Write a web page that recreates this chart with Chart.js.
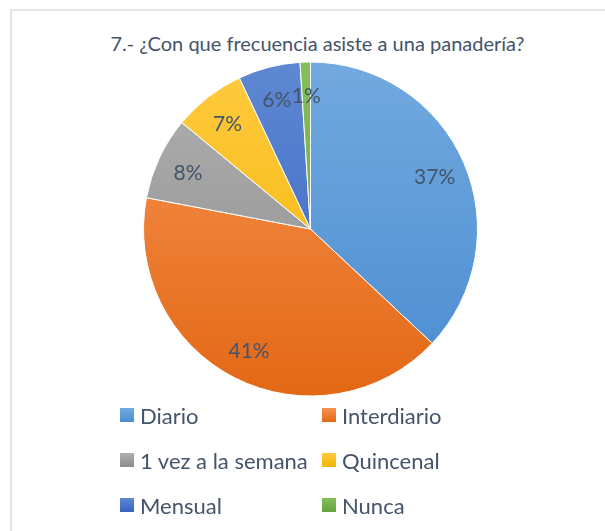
<!DOCTYPE html>
<html>
<head>
<meta charset="utf-8">
<script src="https://cdn.jsdelivr.net/npm/chart.js@4/dist/chart.umd.min.js"></script>
<style>
  html, body { margin: 0; padding: 0; background: #fff; }
  body { width: 605px; height: 531px; position: relative; overflow: hidden; font-family: Lato, "Open Sans", sans-serif; }
  #frame { position: absolute; left: 10px; top: 9px; right: -5px; bottom: -5px; border-left: 2px solid #e1e4e9; border-top: 2px solid #e1e4e9; }
  #wrap { position: absolute; left: 0; top: 0; width: 605px; height: 531px; }
  #title { position: absolute; left: 17.5px; width: 600px; top: 31px; height: 24px; line-height: 24px; text-align: center; font-size: 20px; color: #44546a; white-space: nowrap; }
  #legend { position: absolute; left: 0; top: 0; width: 605px; height: 531px; pointer-events: none; }
  .item { position: absolute; display: flex; align-items: center; font-size: 22px; color: #44546a; white-space: nowrap; }
  .box { width: 14px; height: 14px; margin-right: 6px; }
</style>
</head>
<body>
<div id="frame"></div>
<div id="title"></div>
<div id="wrap"><canvas id="chart" width="605" height="531"></canvas></div>
<div id="legend"></div>
<script>
var titleText = '7.- ¿Con que frecuencia asiste a una panadería?';
var categories = ['Diario', 'Interdiario', '1 vez a la semana', 'Quincenal', 'Mensual', 'Nunca'];
var percents = [37, 41, 8, 7, 6, 1];
var lightColors = ['#72aadf', '#f79352', '#b0b0b0', '#ffca40', '#5f88d2', '#84bf5c'];
var darkColors = ['#4a8bd0', '#e36815', '#8c8c8c', '#f2b500', '#3563c2', '#62a33b'];

var textColor = '#44546a';

document.getElementById('title').textContent = titleText;

function sliceFill(ctx) {
    var chart = ctx.chart;
    var area = chart.chartArea;
    if (!area) return lightColors[ctx.dataIndex];
    var g = chart.ctx.createLinearGradient(0, area.top, 0, area.bottom);
    g.addColorStop(0, lightColors[ctx.dataIndex]);
    g.addColorStop(1, darkColors[ctx.dataIndex]);
    return g;
}

// percent labels inside the slices
var pctLabels = {
    id: 'pctLabels',
    afterDatasetsDraw: function (chart) {
        var c = chart.ctx;
        var meta = chart.getDatasetMeta(0);
        c.save();
        c.font = '21px Lato, "Open Sans", sans-serif';
        c.fillStyle = textColor;
        c.textAlign = 'center';
        c.textBaseline = 'middle';
        meta.data.forEach(function (arc, i) {
            var p = arc.getProps(['x', 'y', 'startAngle', 'endAngle', 'outerRadius'], true);
            var mid = (p.startAngle + p.endAngle) / 2;
            var r = p.outerRadius * 0.81;
            c.fillText(percents[i] + '%', p.x + Math.cos(mid) * r, p.y + Math.sin(mid) * r + 2);
        });
        c.restore();
    }
};

var chart = new Chart(document.getElementById('chart'), {
    type: 'pie',
    data: {
        labels: categories,
        datasets: [{
            data: percents,
            backgroundColor: sliceFill,
            borderColor: '#ffffff',
            borderWidth: 1
        }]
    },
    options: {
        responsive: false,
        animation: false,
        layout: { padding: { left: 143, right: 127, top: 61.5, bottom: 134.5 } },
        plugins: {
            legend: { display: false },
            tooltip: { enabled: false },
            title: { display: false }
        }
    },
    plugins: [pctLabels]
});

// two column legend like the original
var legend = document.getElementById('legend');
var colX = [120, 322];
var rowY = [415, 460, 505];
categories.forEach(function (name, i) {
    var item = document.createElement('div');
    item.className = 'item';
    item.style.left = colX[i % 2] + 'px';
    item.style.top = (rowY[Math.floor(i / 2)] - 14) + 'px';
    item.style.height = '28px';
    var box = document.createElement('span');
    box.className = 'box';
    box.style.background = 'linear-gradient(' + lightColors[i] + ', ' + darkColors[i] + ')';
    var label = document.createElement('span');
    label.textContent = name;
    item.appendChild(box);
    item.appendChild(label);
    legend.appendChild(item);
});
</script>
</body>
</html>
